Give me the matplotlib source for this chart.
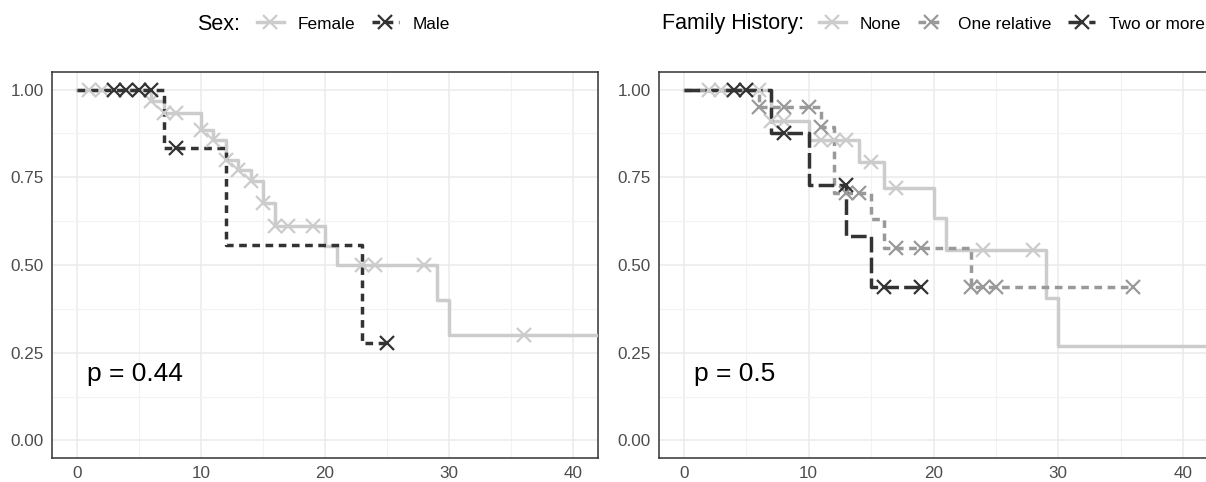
import matplotlib
matplotlib.use("Agg")
import matplotlib.pyplot as plt
from matplotlib.lines import Line2D
import numpy as np

plt.rcParams['font.family'] = ['Liberation Sans', 'DejaVu Sans']

# ---- Sex ----
female_t = [0, 6, 7, 10, 11, 12, 13, 14, 15, 16, 20, 21, 29, 30, 44]
female_s = [1.0, 0.967, 0.933, 0.886, 0.857, 0.80, 0.77, 0.74, 0.676, 0.61, 0.555, 0.50, 0.40, 0.30, 0.30]
female_ct = [1, 2, 6, 7, 8, 10, 11, 12, 13, 14, 15, 16, 17, 19, 23, 24, 28, 36]
female_cs = [1.0, 1.0, 0.967, 0.933, 0.933, 0.886, 0.857, 0.80, 0.77, 0.74, 0.676, 0.61, 0.61, 0.61,
             0.50, 0.50, 0.50, 0.30]

male_t = [0, 7, 12, 23, 25]
male_s = [1.0, 0.833, 0.556, 0.278, 0.278]
male_ct = [3, 4, 5, 6, 8, 25]
male_cs = [1.0, 1.0, 1.0, 1.0, 0.833, 0.278]

# ---- Family history ----
none_t = [0, 7, 10, 14, 16, 20, 21, 29, 30, 44]
none_s = [1.0, 0.91, 0.857, 0.794, 0.72, 0.634, 0.543, 0.406, 0.27, 0.27]
none_ct = [2, 3, 6, 7, 8, 11, 12, 13, 15, 17, 24, 28]
none_cs = [1.0, 1.0, 1.0, 0.91, 0.91, 0.857, 0.857, 0.857, 0.794, 0.72, 0.543, 0.543]

one_t = [0, 6, 11, 12, 15, 16, 23, 36]
one_s = [1.0, 0.95, 0.894, 0.705, 0.63, 0.548, 0.437, 0.437]
one_ct = [6, 8, 10, 11, 13, 14, 17, 19, 23, 24, 25, 36]
one_cs = [0.95, 0.95, 0.95, 0.894, 0.705, 0.705, 0.548, 0.548, 0.437, 0.437, 0.437, 0.437]

two_t = [0, 7, 10, 13, 15, 19]
two_s = [1.0, 0.875, 0.729, 0.583, 0.437, 0.437]
two_ct = [4, 5, 8, 13, 16, 19]
two_cs = [1.0, 1.0, 0.875, 0.729, 0.437, 0.437]

light = '#CCCCCC'
mid = '#999999'
dark = '#333333'
dashed = (2.2, 1.6)
longdash = (4.5, 1.5)

LW = 2.5
MS = 9.5
MEW = 1.6

fig = plt.figure(figsize=(12.06, 4.82), dpi=100)
ax1 = fig.add_axes([52 / 1206, 0.0498, 546 / 1206, 0.8008])
ax2 = fig.add_axes([659 / 1206, 0.0498, 549 / 1206, 0.8008])


def draw_curve(ax, t, s, ct, cs, color, dash=None):
    line, = ax.step(t, s, where='post', color=color, lw=LW, zorder=3)
    if dash is not None:
        line.set_dashes(dash)
    ax.plot(ct, cs, ls='none', marker='x', color=color, ms=MS, mew=MEW, zorder=4)


def style_axes(ax):
    ax.set_xlim(-2, 42)
    ax.set_ylim(-0.05, 1.05)
    ax.set_xticks([0, 10, 20, 30, 40])
    ax.set_xticks([5, 15, 25, 35], minor=True)
    ax.set_yticks([0, 0.25, 0.5, 0.75, 1.0])
    ax.set_yticks([0.125, 0.375, 0.625, 0.875], minor=True)
    ax.set_yticklabels(['0.00', '0.25', '0.50', '0.75', '1.00'])
    ax.grid(which='major', color='#EBEBEB', lw=1.1, zorder=0)
    ax.grid(which='minor', color='#F2F2F2', lw=0.8, zorder=0)
    ax.set_axisbelow(True)
    ax.tick_params(which='both', length=0, labelsize=12.3, labelcolor='#4D4D4D', pad=6)
    for sp in ax.spines.values():
        sp.set_color('#333333')
        sp.set_linewidth(1.1)


draw_curve(ax1, female_t, female_s, female_ct, female_cs, light)
draw_curve(ax1, male_t, male_s, male_ct, male_cs, dark, dashed)
style_axes(ax1)
ax1.text(0.8, 0.19, 'p = 0.44', fontsize=19, ha='left', va='center')

draw_curve(ax2, none_t, none_s, none_ct, none_cs, light)
draw_curve(ax2, one_t, one_s, one_ct, one_cs, mid, dashed)
draw_curve(ax2, two_t, two_s, two_ct, two_cs, dark, longdash)
style_axes(ax2)
ax2.text(0.8, 0.19, 'p = 0.5', fontsize=19, ha='left', va='center')


def key(color, dash=None):
    h = Line2D([], [], color=color, lw=LW, marker='x', ms=MS, mew=MEW)
    if dash is not None:
        h.set_dashes(dash)
    return h


ly = 1 - 24 / 482
leg_kw = dict(loc='center left', frameon=False, fontsize=12.4, handlelength=1.55,
              handletextpad=0.8, columnspacing=0.98, borderpad=0, borderaxespad=0)

fig.text(197 / 1206, ly, 'Sex:', fontsize=15.5, ha='left', va='center')
fig.legend([key(light), key(dark, dashed)], ['Female', 'Male'],
           bbox_to_anchor=(257 / 1206, ly), ncol=2, **leg_kw)

fig.text(662 / 1206, ly, 'Family History:', fontsize=15.5, ha='left', va='center')
fig.legend([key(light), key(mid, dashed), key(dark, longdash)],
           ['None', 'One relative', 'Two or more'],
           bbox_to_anchor=(819 / 1206, ly), ncol=3, **leg_kw)

fig.savefig('out.png', dpi=100)
